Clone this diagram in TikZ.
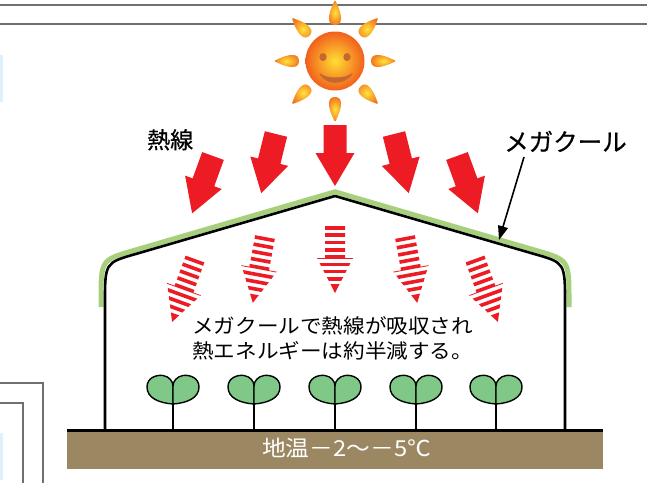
\documentclass[tikz,border=0pt]{standalone}
\usepackage{fontspec}
\newfontfamily\jpbodyfont[FakeStretch=1.08]{Noto Sans CJK JP}
\newfontfamily\jpheavyfont[FakeBold=0.6]{Noto Sans CJK JP}
\usetikzlibrary{arrows.meta}

\definecolor{heatred}{RGB}{237,28,36}
\definecolor{megagreen}{RGB}{168,208,124}
\definecolor{leafgreen}{RGB}{128,200,136}
\definecolor{soil}{RGB}{155,136,99}
\definecolor{framegray}{RGB}{112,112,112}
\definecolor{paleblue}{RGB}{222,240,251}
\definecolor{sunyellow}{RGB}{255,222,52}
\definecolor{sunorange}{RGB}{242,96,28}
\definecolor{rayyellow}{RGB}{255,228,60}
\definecolor{rayorange}{RGB}{244,120,32}
\definecolor{smilebrown}{RGB}{196,104,48}

\tikzset{
  % solid incoming heat ray
  heatarrow/.pic={
    \fill[heatred] (-11.5,0) -- (11.5,0) -- (11.5,28) -- (19.5,28)
      -- (0,61) -- (-19.5,28) -- (-11.5,28) -- cycle;
  },
  % weakened heat ray below the film, drawn as stripes
  stripearrow/.pic={
    \begin{scope}
      \clip (-10,0) -- (10,0) -- (10,32) -- (18,32) -- (0,67)
        -- (-18,32) -- (-10,32) -- cycle;
      \foreach \k in {0,...,7}
        \fill[heatred] (-20,7.3*\k) rectangle (20,7.3*\k+3.6);
      \fill[heatred] (-20,58.4) rectangle (20,68);
    \end{scope}
  },
  % one flame-shaped sun ray, pointing along +x
  sunray/.pic={
    \shade[inner color=rayyellow, outer color=rayorange]
      (36,0) .. controls (36,-7.8) and (45,-7.8) .. (58,-1.5)
      .. controls (61,-0.8) and (61,0.8) .. (58,1.5)
      .. controls (45,7.8) and (36,7.8) .. (36,0) -- cycle;
  },
  % young plant with two seed leaves
  seedling/.pic={
    \draw[stem] (0,-2) -- (0,26);
    \draw[leaf] (0,0) .. controls (-14,-1) and (-26,-6) .. (-26,-17)
      .. controls (-26,-26) and (-17,-29.5) .. (-10,-28.5)
      .. controls (-4,-27.5) and (0,-23) .. (0,-18) -- cycle;
    \draw[leaf] (0,0) .. controls (14,-1) and (26,-6) .. (26,-17)
      .. controls (26,-26) and (17,-29.5) .. (10,-28.5)
      .. controls (4,-27.5) and (0,-23) .. (0,-18) -- cycle;
  },
}

\begin{document}
\begin{tikzpicture}[x=1pt,y=-1pt,
  wall/.style={line width=2.6pt, black, line join=round},
  film/.style={line width=5pt, megagreen, line join=round},
  framerule/.style={framegray, line width=1.4pt},
  leaf/.style={fill=leafgreen, draw=black, line width=1.4pt, line join=round},
  stem/.style={line width=2.6pt, black},
  heattag/.style={inner sep=0pt, font=\jpheavyfont\fontsize{23}{27}\selectfont},
  megatag/.style={inner sep=0pt, font=\jpheavyfont\fontsize{24.5}{29}\selectfont},
  bodytext/.style={inner sep=0pt, font=\jpbodyfont\fontsize{20}{25}\selectfont},
  soiltext/.style={inner sep=0pt, text=white, font=\jpbodyfont\fontsize{22}{26}\selectfont},
]
\useasboundingbox (0,0) rectangle (647,483);

% page rules and frame pieces
\draw[framerule] (0,5) -- (647,5);
\draw[framerule] (0,24) -- (647,24);
\draw[framerule] (0,383) -- (43,383) -- (43,483);
\draw[framerule] (0,403) -- (23,403) -- (23,483);
\fill[paleblue] (0,55) rectangle (3,102);
\fill[paleblue] (0,433) rectangle (3,480);

% smiling sun
\begin{scope}[shift={(335,61)}]
  \foreach \a in {0,45,...,315}
    \pic[rotate=\a] at (0,0) {sunray};
  \shade[inner color=sunyellow, outer color=sunorange] (0,0) circle (29.5);
  \fill[smilebrown] (-12,-4) ellipse (3.6 and 4);
  \fill[smilebrown] (12,-4) ellipse (3.6 and 4);
  \filldraw[smilebrown, line width=1.2pt, line join=round]
    (-15,13) .. controls (-8,24) and (8,24) .. (17,13)
    .. controls (9,18.5) and (-8,18.5) .. cycle;
\end{scope}

% incoming heat rays
\pic[rotate=-20] at (213,156) {heatarrow};
\pic[rotate=-14] at (276,134) {heatarrow};
\pic at (335,125) {heatarrow};
\pic[rotate=14] at (394,134) {heatarrow};
\pic[rotate=20] at (457,156) {heatarrow};

% greenhouse: Megacool film over the frame
\draw[film] (101,307) -- (101,301) .. controls (101,260) .. (132.7,250.8)
  -- (335,191.8) -- (537.3,250.8) .. controls (569,260) .. (569,301) -- (569,307);
\draw[wall] (105,430) -- (105,303) .. controls (105,262.7) .. (135.7,254)
  -- (335,196) -- (534.3,254) .. controls (565,262.7) .. (565,303) -- (565,430);

% reduced heat rays inside
\pic[rotate=-20] at (195,259) {stripearrow};
\pic[rotate=-10.5] at (265,237) {stripearrow};
\pic at (335,226) {stripearrow};
\pic[rotate=10.5] at (405,237) {stripearrow};
\pic[rotate=20] at (475,259) {stripearrow};

% explanation
\node[bodytext, anchor=base west] (absorbA) at (192,333.5) {メガクールで熱線が吸収され};
\node[bodytext, anchor=base west] (absorbB) at (192,358) {熱エネルギーは約半減する。};

% plants
\foreach \px in {173,254,335,416,496}
  \pic at (\px,404) {seedling};

% soil
\fill[soil] (67,431) rectangle (603,469);
\draw[line width=3pt] (67,430.5) -- (603,430.5);
\node[soiltext, anchor=base] (soiltemp) at (346.5,456.5) {地温－2〜－5℃};

% labels
\node[heattag, anchor=base west] (heatlbl) at (147,148.5) {熱線};
\node[megatag, anchor=base west] (megalbl) at (504,151) {メガクール};
\coordinate (mcstart) at (524,157);
\coordinate (roofpt) at (499,240);
\draw[line width=1.6pt, -{Triangle[length=14pt,width=10pt]}] (mcstart) -- (roofpt);
\end{tikzpicture}
\end{document}
